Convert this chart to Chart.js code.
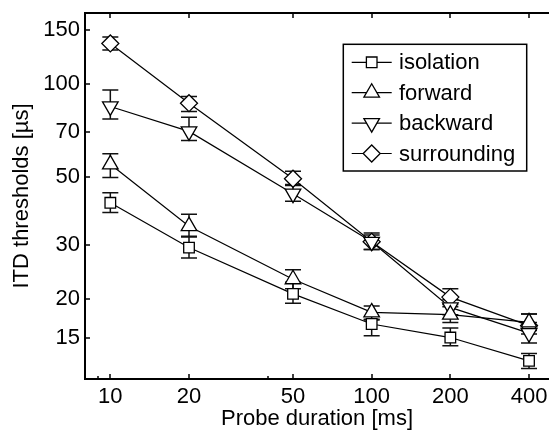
<!DOCTYPE html>
<html><head><meta charset="utf-8">
<script src="https://cdn.jsdelivr.net/npm/chart.js@4/dist/chart.umd.min.js"></script>
<style>html,body{margin:0;padding:0;background:#fff;overflow:hidden}canvas{display:block}</style>
</head><body>
<canvas id="c" width="549" height="430"></canvas>
<script>
const durations = [10, 20, 50, 100, 200, 400];
const xTicks = [10, 20, 50, 100, 200, 400];
const xMinorTicks = [9, 40];
const yTicks = [15, 20, 30, 50, 70, 100, 150];
const seriesNames = ['isolation', 'forward', 'backward', 'surrounding'];
const isolation = [41.1, 29.4, 20.8, 16.6, 15.0, 12.6];
const isolationLow = [38.2, 27.2, 19.4, 15.2, 14.1, 11.9];
const isolationHigh = [44.3, 32.0, 22.7, 17.1, 16.1, 13.3];
const forward = [54.8, 34.5, 23.2, 18.1, 17.8, 16.8];
const forwardLow = [49.7, 31.8, 21.6, 17.2, 16.8, 15.8];
const forwardHigh = [59.3, 37.7, 24.9, 19.0, 18.9, 17.9];
const backward = [84.5, 70.1, 44.0, 30.7, 18.8, 15.5];
const backwardLow = [76.9, 65.5, 41.6, 29.0, 17.8, 14.4];
const backwardHigh = [95.6, 78.0, 46.8, 32.3, 19.9, 16.8];
const surrounding = [135.4, 86.6, 49.2, 30.7, 20.3, 16.4];
const surroundingLow = [128.8, 81.3, 47.1, 29.0, 19.2, 15.4];
const surroundingHigh = [142.0, 91.0, 52.0, 32.8, 21.6, 17.9];

const FONT = '"Liberation Sans", Arial, Helvetica, sans-serif';
Chart.defaults.font.family = FONT;
Chart.defaults.font.size = 22;
Chart.defaults.color = '#000';

function mk(label, vals, low, high, style, rot, r) {
  return {
    label, data: durations.map((d, i) => ({x: d, y: vals[i]})),
    errLow: low, errHigh: high,
    borderColor: '#000', borderWidth: 1.2, backgroundColor: '#fff',
    pointStyle: style, pointRotation: rot, pointRadius: r, pointHoverRadius: r,
    pointBorderWidth: 1.3, pointBackgroundColor: '#fff', pointBorderColor: '#000',
    tension: 0, fill: false, clip: false
  };
}
const datasets = [
  mk(seriesNames[0], isolation, isolationLow, isolationHigh, 'rect', 0, 7.5),
  mk(seriesNames[1], forward, forwardLow, forwardHigh, 'triangle', 0, 9),
  mk(seriesNames[2], backward, backwardLow, backwardHigh, 'triangle', 180, 9),
  mk(seriesNames[3], surrounding, surroundingLow, surroundingHigh, 'rectRot', 0, 8.5)
];

const errorBars = {
  id: 'errorBars',
  beforeDatasetsDraw(chart) {
    const {ctx, scales: {x, y}} = chart;
    ctx.save();
    ctx.strokeStyle = '#111'; ctx.lineWidth = 1.5;
    chart.data.datasets.forEach(ds => {
      durations.forEach((d, j) => {
        const px = x.getPixelForValue(d);
        const yl = y.getPixelForValue(ds.errLow[j]);
        const yh = y.getPixelForValue(ds.errHigh[j]);
        ctx.beginPath();
        ctx.moveTo(px, yl); ctx.lineTo(px, yh);
        ctx.moveTo(px - 8, yl); ctx.lineTo(px + 8, yl);
        ctx.moveTo(px - 8, yh); ctx.lineTo(px + 8, yh);
        ctx.stroke();
      });
    });
    ctx.restore();
  }
};

function marker(ctx, ds, x, y) {
  if (Chart.helpers && Chart.helpers.drawPoint) {
    ctx.fillStyle = '#fff'; ctx.strokeStyle = '#000'; ctx.lineWidth = ds.pointBorderWidth;
    Chart.helpers.drawPoint(ctx, {pointStyle: ds.pointStyle, rotation: ds.pointRotation, radius: ds.pointRadius, borderWidth: ds.pointBorderWidth}, x, y);
  }
}

const axisDecor = {
  id: 'axisDecor',
  afterDraw(chart) {
    const {ctx, chartArea: a, scales: {x, y}} = chart;
    ctx.save();
    ctx.strokeStyle = '#000';
    ctx.lineWidth = 2;
    ctx.beginPath(); ctx.moveTo(a.left - 1, a.top); ctx.lineTo(chart.width, a.top); ctx.stroke();
    ctx.lineWidth = 1.5;
    ctx.beginPath();
    xTicks.forEach(v => {
      const px = Math.round(x.getPixelForValue(v));
      ctx.moveTo(px, a.bottom); ctx.lineTo(px, a.bottom - 5);
      ctx.moveTo(px, a.top); ctx.lineTo(px, a.top + 5);
    });
    xMinorTicks.forEach(v => {
      const px = Math.round(x.getPixelForValue(v));
      ctx.moveTo(px, a.bottom); ctx.lineTo(px, a.bottom - 3);
    });
    yTicks.forEach(v => {
      const py = Math.round(y.getPixelForValue(v));
      ctx.moveTo(a.left, py); ctx.lineTo(a.left + 5, py);
    });
    ctx.stroke();

    // legend
    const W = 183.4, H = 126.7;
    const L = a.right - 22.3 - W, T = a.top + 31.3;
    ctx.fillStyle = '#fff';
    ctx.fillRect(L, T, W, H);
    ctx.lineWidth = 1.5; ctx.strokeStyle = '#000';
    ctx.strokeRect(L, T, W, H);
    ctx.font = '22px ' + FONT;
    ctx.textBaseline = 'middle'; ctx.textAlign = 'left';
    chart.data.datasets.forEach((ds, i) => {
      const ry = T + 18 + i * 30.4;
      ctx.strokeStyle = '#000'; ctx.lineWidth = 1.2;
      ctx.beginPath(); ctx.moveTo(L + 8.4, ry); ctx.lineTo(L + 48.4, ry); ctx.stroke();
      marker(ctx, ds, L + 28.4, ry);
      ctx.fillStyle = '#000';
      ctx.fillText(ds.label, L + 55.7, ry + 1);
    });
    ctx.restore();
  }
};

new Chart(document.getElementById('c'), {
  type: 'line',
  data: {datasets},
  plugins: [errorBars, axisDecor],
  options: {
    responsive: false, animation: false, devicePixelRatio: 1,
    layout: {autoPadding: false, padding: {top: 13, left: 0, right: 0, bottom: 0}},
    plugins: {legend: {display: false}, tooltip: {enabled: false}},
    scales: {
      x: {
        type: 'logarithmic', min: 8, max: 477,
        grid: {display: true, drawOnChartArea: false, drawTicks: true, tickLength: 5, tickColor: 'rgba(0,0,0,0)'},
        border: {display: true, color: '#000', width: 2},
        afterBuildTicks: s => { s.ticks = xTicks.map(v => ({value: v})); },
        ticks: {padding: 0, autoSkip: false, maxRotation: 0, font: {size: 22}, callback: v => String(v)},
        title: {display: true, text: 'Probe duration [ms]', font: {size: 22}, padding: {top: 0, bottom: -2}},
        afterFit: s => { s.height = 51; s.paddingLeft = 0; s.paddingRight = 0; }
      },
      y: {
        type: 'logarithmic', min: 11, max: 170,
        grid: {display: true, drawOnChartArea: false, drawTicks: true, tickLength: 5, tickColor: 'rgba(0,0,0,0)'},
        border: {display: true, color: '#000', width: 2},
        afterBuildTicks: s => { s.ticks = yTicks.map(v => ({value: v})); },
        ticks: {padding: 0, autoSkip: false, font: {size: 22}, callback: v => String(v)},
        title: {display: true, text: 'ITD thresholds [µs]', font: {size: 22}, padding: {top: 9, bottom: 0}},
        afterFit: s => { s.width = 85; s.paddingTop = 0; s.paddingBottom = 0; }
      }
    }
  }
});
</script>
</body></html>
